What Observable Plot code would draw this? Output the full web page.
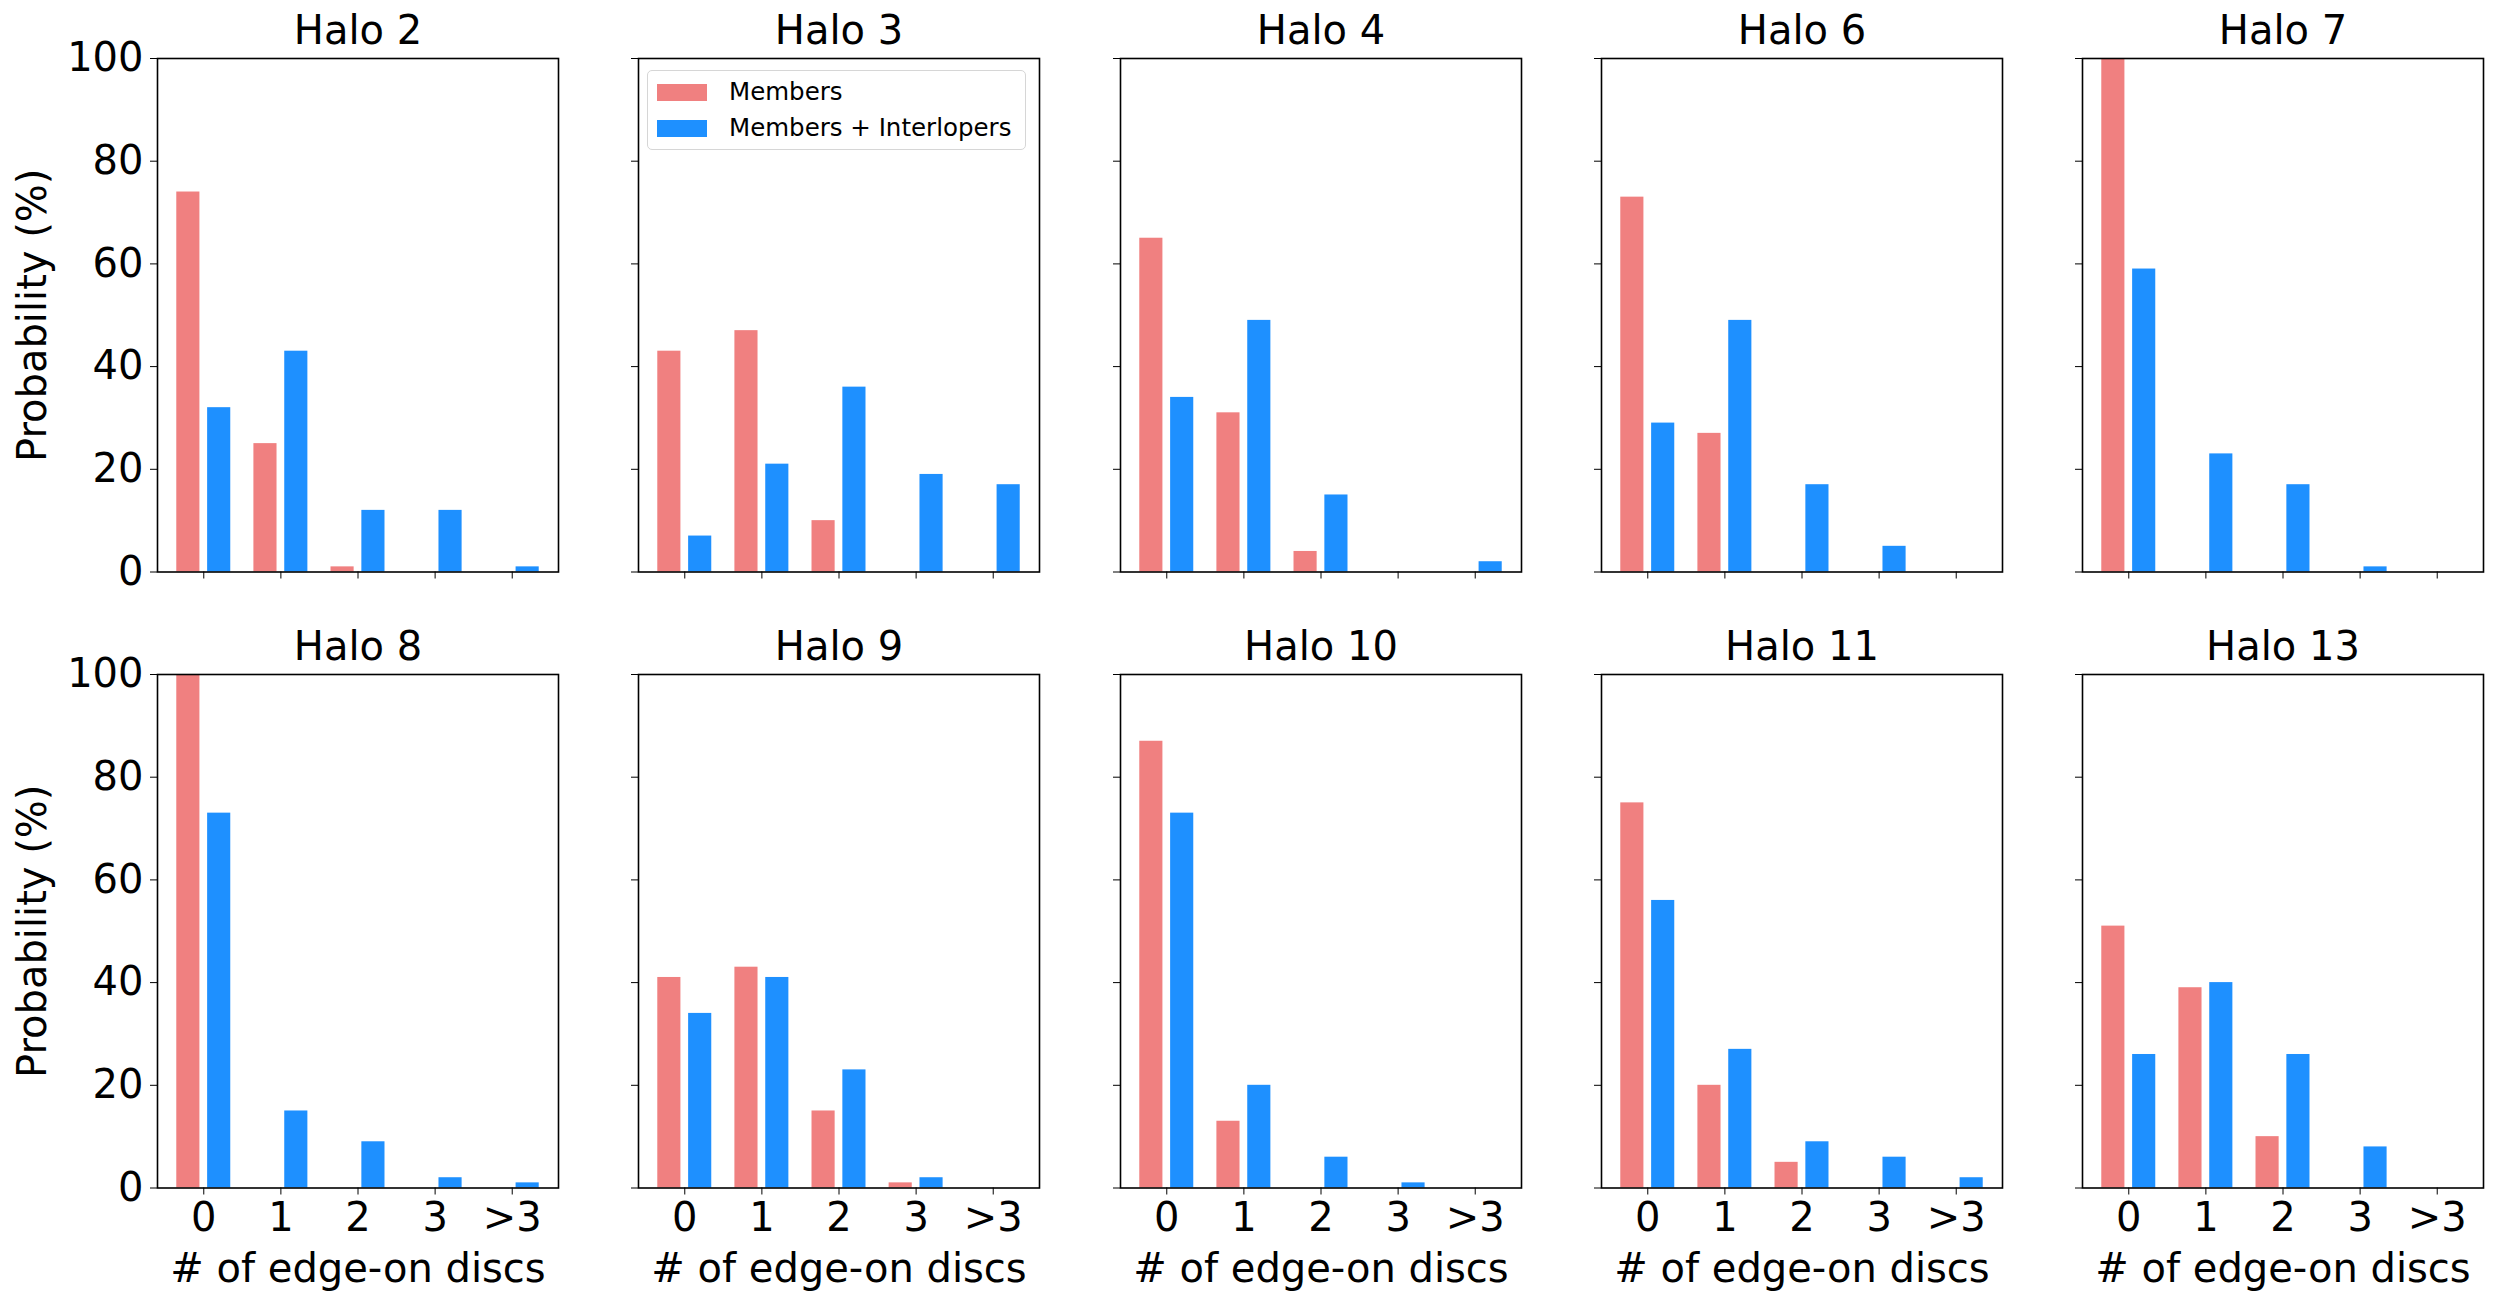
<!DOCTYPE html>
<html><head><meta charset="utf-8">
<script src="https://cdn.jsdelivr.net/npm/d3@7"></script>
<script src="https://cdn.jsdelivr.net/npm/@observablehq/plot@0.6"></script>
<style>
body{margin:0;background:#fff;}
#fig{position:relative;width:2500px;height:1308px;background:#fff;font-family:"DejaVu Sans",sans-serif;overflow:hidden;}
.panel{position:absolute;}
#legend{position:absolute;left:647px;top:70px;width:377px;height:78px;border:1.5px solid #d6d6d6;border-radius:5px;background:rgba(255,255,255,0.8);box-sizing:content-box;}
.lrow{position:absolute;left:9px;height:18px;display:flex;align-items:center;}
.lsw{width:50px;height:17px;margin-right:22px;}
.ltx{font-size:24.5px;color:#000;white-space:nowrap;line-height:1;}
</style></head><body><div id="fig"></div>
<script>
const categories = ["0","1","2","3",">3"];
const halos = ["Halo 2","Halo 3","Halo 4","Halo 6","Halo 7","Halo 8","Halo 9","Halo 10","Halo 11","Halo 13"];
const members = [
  [74,25,1,0,0],
  [43,47,10,0,0],
  [65,31,4,0,0],
  [73,27,0,0,0],
  [100,0,0,0,0],
  [100,0,0,0,0],
  [41,43,15,1,0],
  [87,13,0,0,0],
  [75,20,5,0,0],
  [51,39,10,0,0]
];
const membersInterlopers = [
  [32,43,12,12,1],
  [7,21,36,19,17],
  [34,49,15,0,2],
  [29,49,17,5,0],
  [59,23,17,1,0],
  [73,15,9,2,1],
  [34,41,23,2,0],
  [73,20,6,1,0],
  [56,27,9,6,2],
  [26,40,26,8,0]
];
const seriesNames = ["Members","Members + Interlopers"];
const seriesColors = ["lightcoral","dodgerblue"];
const yTicks = [0,20,40,60,80,100];
const xLabel = "# of edge-on discs";
const yLabel = "Probability (%)";

const fig = document.getElementById("fig");
const frameW = 401, frameH = 513.5, colStep = 481.25, rowStep = 616.5, left0 = 157, top0 = 57.5;
const mL = 160, mR = 20, mT = 60, mB = 120;
const FONT = "DejaVu Sans, sans-serif";

halos.forEach((name, h) => {
  const col = h % 5, row = Math.floor(h / 5);
  const rows = [];
  categories.forEach((c, i) => {
    rows.push({i, s: 0, v: members[h][i]});
    rows.push({i, s: 1, v: membersInterlopers[h][i]});
  });
  const bars = rows.filter(d => d.v > 0);
  const isLeft = col === 0, isBottom = row === 1;
  const marks = [
    Plot.rectY(bars, {
      x1: d => d.i + (d.s === 0 ? -0.35 : 0.05),
      x2: d => d.i + (d.s === 0 ? -0.05 : 0.35),
      y: "v",
      fill: d => seriesColors[d.s]
    }),
    Plot.frame({stroke: "black", strokeWidth: 1.6}),
    Plot.text([name], {frameAnchor: "top", lineAnchor: "middle", dy: -27, fontSize: 40, fill: "black", text: d => d})
  ];
  if (isBottom) marks.push(Plot.text([xLabel], {frameAnchor: "bottom", lineAnchor: "middle", dy: 81, fontSize: 40, fill: "black", text: d => d}));
  if (isLeft) marks.push(Plot.text([yLabel], {frameAnchor: "left", lineAnchor: "middle", textAnchor: "middle", rotate: -90, dx: -124, fontSize: 40, fill: "black", text: d => d}));
  const chart = Plot.plot({
    width: frameW + mL + mR,
    height: frameH + mT + mB,
    marginLeft: mL, marginRight: mR, marginTop: mT, marginBottom: mB,
    style: {background: "none", overflow: "visible", fontFamily: FONT, fontSize: "40px", color: "black"},
    x: {
      type: "linear", domain: [-0.6, 4.6], ticks: [0,1,2,3,4],
      tickFormat: isBottom ? (d => categories[d]) : (() => ""),
      tickSize: 7, tickPadding: 8,
      label: null
    },
    y: {
      domain: [0, 100], ticks: yTicks,
      tickFormat: isLeft ? (d => String(d)) : (() => ""),
      tickSize: 7, tickPadding: 7,
      label: null
    },
    marks
  });
  chart.classList.add("panel");
  chart.style.left = (left0 + col * colStep - mL) + "px";
  chart.style.top = (top0 + row * rowStep - mT) + "px";
  fig.appendChild(chart);
});

// legend (inside Halo 3 panel)
const legend = document.createElement("div");
legend.id = "legend";
seriesNames.forEach((n, k) => {
  const r = document.createElement("div");
  r.className = "lrow";
  r.style.top = (k === 0 ? 12 : 48) + "px";
  const sw = document.createElement("div");
  sw.className = "lsw"; sw.style.background = seriesColors[k];
  const tx = document.createElement("span");
  tx.className = "ltx"; tx.textContent = n;
  r.appendChild(sw); r.appendChild(tx);
  legend.appendChild(r);
});
fig.appendChild(legend);
</script>
</body></html>
